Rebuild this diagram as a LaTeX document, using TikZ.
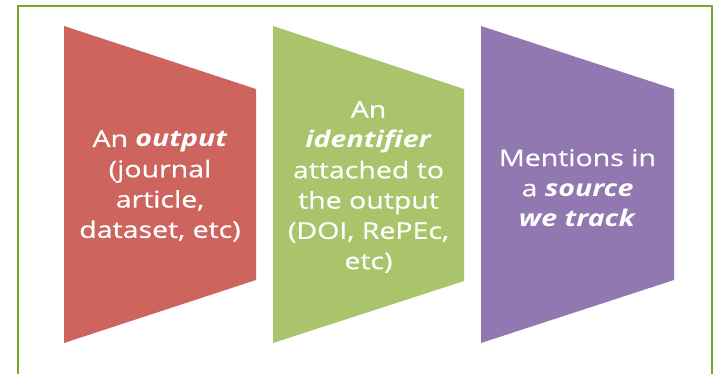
\documentclass[tikz,border=0pt]{standalone}
\usepackage{fontspec}
\setmainfont{Open Sans}[FakeStretch=1.24, UprightFeatures={FakeBold=0.5}]
\definecolor{cred}{HTML}{CD645E}
\definecolor{cgreen}{HTML}{A9C46A}
\definecolor{cpurple}{HTML}{9178B0}
\definecolor{cframe}{HTML}{77A82C}
\tikzset{
  lbl/.style={text=white, align=center, inner sep=0pt, font=\fontsize{23}{30.3}\selectfont},
  frame/.style={draw=cframe, line width=2.5pt},
}
\newcommand{\bi}[1]{\textbf{\textit{#1}}}
\begin{document}
\begin{tikzpicture}[x=1pt,y=-1pt]
\useasboundingbox (0,0) rectangle (713,374);
\fill[white] (0,0) rectangle (713,374);
\draw[frame] (18,374) -- (18,6) -- (712,6) -- (712,374);
\fill[cred] (64,26) -- (256,89) -- (256,280) -- (64,343) -- cycle;
\fill[cgreen] (273,26) -- (464,89) -- (464,281) -- (273,343) -- cycle;
\fill[cpurple] (481,26) -- (674,89) -- (674,280) -- (481,343) -- cycle;
\node[lbl] (t1) at (160,186) {An \bi{output}\\(journal\\article,\\dataset, etc)};
\node[lbl] (t2) at (368.5,187) {An\\\bi{identifier}\\attached to\\the output\\(DOI, RePEc,\\etc)};
\node[lbl] (t3) at (577.5,188) {Mentions in\\a \bi{source}\\\bi{we track}};
\end{tikzpicture}
\end{document}
